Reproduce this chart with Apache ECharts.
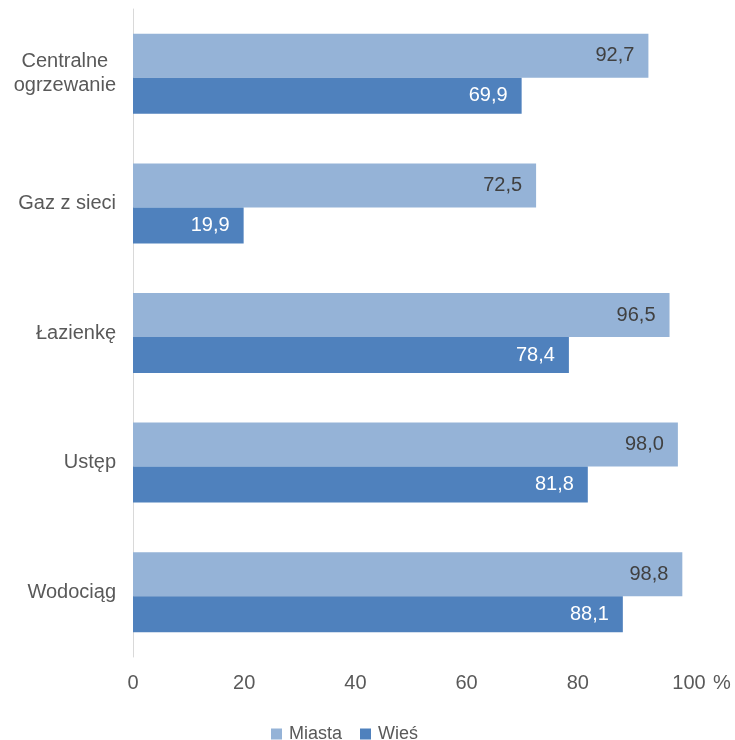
<!DOCTYPE html>
<html>
<head>
<meta charset="utf-8">
<script src="https://cdn.jsdelivr.net/npm/echarts@6/dist/echarts.min.js"></script>
<style>
  html, body { margin: 0; padding: 0; background: #fff; }
  #chart { width: 735px; height: 740px; }
</style>
</head>
<body>
<div id="chart"></div>
<script>
// Amenities in dwellings: towns vs. villages (%)
const categories = ['Centralne\nogrzewanie', 'Gaz z sieci', 'Łazienkę', 'Ustęp', 'Wodociąg'];
const miasta = [92.7, 72.5, 96.5, 98.0, 98.8];
const wies = [69.9, 19.9, 78.4, 81.8, 88.1];
const xTicks = [0, 20, 40, 60, 80, 100];

const FONT = '"Liberation Sans", Arial, sans-serif';
const fmt = v => v.toFixed(1).replace('.', ',');

const chart = echarts.init(document.getElementById('chart'), null, { renderer: 'canvas' });
chart.setOption({
  animation: false,
  textStyle: { fontFamily: FONT },
  grid: { left: 133, right: 46, top: 9, bottom: 83, containLabel: false },
  legend: {
    top: 720,
    left: 266,
    itemWidth: 11,
    itemHeight: 11,
    itemGap: 18,
    icon: 'rect',
    textStyle: { fontFamily: FONT, fontSize: 18, color: '#595959', padding: [0, 0, 0, 2] },
    data: ['Miasta', 'Wieś']
  },
  xAxis: {
    type: 'value',
    min: xTicks[0],
    max: xTicks[xTicks.length - 1],
    interval: xTicks[1] - xTicks[0],
    axisLine: { show: false },
    axisTick: { show: false },
    splitLine: { show: false },
    axisLabel: { margin: 16, fontFamily: FONT, fontSize: 20, color: '#595959' },
    name: '%',
    nameLocation: 'end',
    nameGap: 24,
    nameTextStyle: {
      fontFamily: FONT, fontSize: 20, color: '#595959',
      verticalAlign: 'top', padding: [16, 0, 0, 0]
    }
  },
  yAxis: {
    type: 'category',
    inverse: true,
    data: categories,
    axisLine: { show: true, lineStyle: { color: '#d9d9d9', width: 1 } },
    axisTick: { show: false },
    axisLabel: {
      margin: 17,
      fontFamily: FONT,
      fontSize: 20,
      color: '#595959',
      lineHeight: 24,
      formatter: v => v.split('\n').map(s => '{c|' + s + '}').join('\n'),
      rich: { c: { align: 'center', fontFamily: FONT, fontSize: 20, color: '#595959', lineHeight: 24 } }
    }
  },
  series: [
    {
      name: 'Miasta',
      type: 'bar',
      data: miasta,
      barWidth: 44,
      barGap: '0%',
      itemStyle: { color: '#95b3d7' },
      label: {
        show: true, position: 'insideRight', distance: 14,
        formatter: p => fmt(p.value),
        fontFamily: FONT, fontSize: 20, color: '#404040'
      }
    },
    {
      name: 'Wieś',
      type: 'bar',
      data: wies,
      barWidth: 36,
      barGap: '0%',
      itemStyle: { color: '#4f81bd' },
      label: {
        show: true, position: 'insideRight', distance: 14,
        formatter: p => fmt(p.value),
        fontFamily: FONT, fontSize: 20, color: '#ffffff'
      }
    }
  ]
});
</script>
</body>
</html>
